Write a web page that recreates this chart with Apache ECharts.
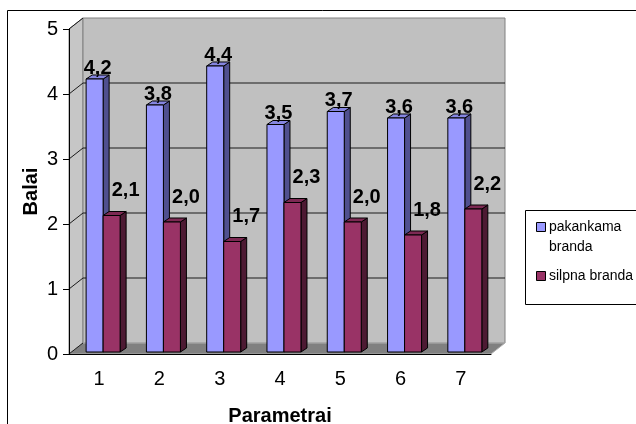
<!DOCTYPE html>
<html>
<head>
<meta charset="utf-8">
<script src="https://cdn.jsdelivr.net/npm/echarts@6/dist/echarts.min.js"></script>
<style>
  html, body { margin: 0; padding: 0; background: #fff; }
  #chart { width: 636px; height: 424px; }
</style>
</head>
<body>
<div id="chart"></div>
<script>
// Category labels along the horizontal axis
const categories = ['1', '2', '3', '4', '5', '6', '7'];
// Series names
const seriesNames = ['pakankama branda', 'silpna branda'];
// Values per series
const pakankama = [4.2, 3.8, 4.4, 3.5, 3.7, 3.6, 3.6];
const silpna = [2.1, 2.0, 1.7, 2.3, 2.0, 1.8, 2.2];
// Value axis range
const valueMin = 0;
const valueMax = 5;
const valueStep = 1;

const FONT = '"Liberation Sans", Arial, sans-serif';

// Depth of the chart box (back wall shift) and of each prism
const WALL_D = [14, -11];
const BAR_D = [6, -4];
const BAR_FRONT = [2, -2];

const palette = [
  { front: '#9999ff', side: '#50508f', top: '#8585e0' },
  { front: '#993366', side: '#4d1a33', top: '#7d2953' }
];
const labelOffset = [
  [3, -11],
  [14, -25]
];

function fmt(v) {
  return v.toFixed(1).replace('.', ',');
}

// Walls, floor and gridlines of the 3D box
function renderBox(params, api) {
  const cs = params.coordSys;
  const L = cs.x, R = cs.x + cs.width, T = cs.y, B = cs.y + cs.height;
  const dx = WALL_D[0], dy = WALL_D[1];
  const kids = [];
  // side wall
  kids.push({
    type: 'polygon',
    shape: { points: [[L, T], [L + dx, T + dy], [L + dx, B + dy], [L, B]] },
    style: { fill: '#c6c6c6', stroke: '#808080', lineWidth: 1 }
  });
  // back wall
  kids.push({
    type: 'rect',
    shape: { x: L + dx, y: T + dy, width: R - L, height: B - T },
    style: { fill: '#c0c0c0', stroke: '#808080', lineWidth: 1 }
  });
  // floor
  kids.push({
    type: 'polygon',
    shape: { points: [[L, B], [R, B], [R + dx, B + dy], [L + dx, B + dy]] },
    style: { fill: '#808080', stroke: '#b0b0b0', lineWidth: 1 }
  });
  // gridlines on back wall and side wall
  for (let v = valueMin; v <= valueMax; v += valueStep) {
    const y = api.coord([0, v])[1];
    if (v > valueMin && v < valueMax) {
      kids.push({
        type: 'line',
        shape: { x1: L + dx, y1: y + dy, x2: R + dx, y2: y + dy },
        style: { stroke: '#1a1a1a', lineWidth: 1 }
      });
    }
    kids.push({
      type: 'line',
      shape: { x1: L, y1: y, x2: L + dx, y2: y + dy },
      style: { stroke: '#1a1a1a', lineWidth: 1 }
    });
  }
  return { type: 'group', children: kids };
}

// One 3D prism per value, with its value label
function prismRenderer(s) {
  return function (params, api) {
    const i = api.value(0);
    const v = api.value(1);
    const top = api.coord([i, v]);
    const base = api.coord([i, 0]);
    const w = api.size([1, 0])[0];
    const bw = w * 0.282;
    const x0 = top[0] - w * 0.216 + BAR_FRONT[0] - 2 + s * bw;
    const x1 = x0 + bw;
    const yT = top[1] + BAR_FRONT[1];
    const yB = base[1] + BAR_FRONT[1];
    const dx = BAR_D[0], dy = BAR_D[1];
    const c = palette[s];
    const edge = { stroke: '#000', lineWidth: 1 };
    return {
      type: 'group',
      children: [
        {
          type: 'polygon',
          shape: { points: [[x1, yT], [x1 + dx, yT + dy], [x1 + dx, yB + dy], [x1, yB]] },
          style: Object.assign({ fill: c.side }, edge)
        },
        {
          type: 'polygon',
          shape: { points: [[x0, yT], [x0 + dx, yT + dy], [x1 + dx, yT + dy], [x1, yT]] },
          style: Object.assign({ fill: c.top }, edge)
        },
        {
          type: 'rect',
          shape: { x: x0, y: yT, width: bw, height: yB - yT },
          style: Object.assign({ fill: c.front }, edge)
        },
        {
          type: 'text',
          x: (x0 + x1) / 2 + labelOffset[s][0],
          y: yT + labelOffset[s][1],
          style: {
            text: fmt(v),
            fill: '#000',
            font: 'bold 20px ' + FONT,
            align: 'center',
            verticalAlign: 'middle'
          }
        }
      ]
    };
  };
}

const chart = echarts.init(document.getElementById('chart'), null, { renderer: 'canvas' });

const legendX = 536;
const legendRows = [217, 266];

chart.setOption({
  animation: false,
  backgroundColor: '#fff',
  grid: { left: 69, right: 145, top: 29, bottom: 70, containLabel: false, outerBoundsMode: 'none' },
  xAxis: {
    type: 'category',
    data: categories,
    z: 5,
    axisLine: { lineStyle: { color: '#000', width: 1 } },
    axisTick: { length: 7, lineStyle: { color: '#000' } },
    axisLabel: { color: '#000', fontSize: 20, fontFamily: FONT, margin: 15 },
    name: 'Parametrai',
    nameLocation: 'middle',
    nameGap: 52,
    nameMoveOverlap: false,
    nameTextStyle: { color: '#000', fontSize: 20, fontWeight: 'bold', fontFamily: FONT }
  },
  yAxis: {
    type: 'value',
    min: valueMin,
    max: valueMax,
    interval: valueStep,
    z: 5,
    splitLine: { show: false },
    axisLine: { show: true, lineStyle: { color: '#000', width: 1 } },
    axisTick: { show: true, length: 6, lineStyle: { color: '#000' } },
    axisLabel: { color: '#000', fontSize: 20, fontFamily: FONT, margin: 11 },
    name: 'Balai',
    nameLocation: 'middle',
    nameGap: 28,
    nameMoveOverlap: false,
    nameTextStyle: { color: '#000', fontSize: 20, fontWeight: 'bold', fontFamily: FONT }
  },
  series: [
    {
      type: 'custom',
      name: 'box',
      clip: false,
      z: 1,
      silent: true,
      renderItem: renderBox,
      data: [[0, 0]]
    },
    {
      type: 'custom',
      name: seriesNames[0],
      clip: false,
      z: 3,
      renderItem: prismRenderer(0),
      data: pakankama.map((v, i) => [i, v])
    },
    {
      type: 'custom',
      name: seriesNames[1],
      clip: false,
      z: 4,
      renderItem: prismRenderer(1),
      data: silpna.map((v, i) => [i, v])
    }
  ],
  graphic: [
    {
      type: 'rect',
      shape: { x: 7.5, y: 10.5, width: 700, height: 500 },
      style: { fill: 'none', stroke: '#000', lineWidth: 1 },
      silent: true
    },
    {
      type: 'rect',
      shape: { x: 525.5, y: 210.5, width: 200, height: 94 },
      style: { fill: '#fff', stroke: '#000', lineWidth: 1 },
      silent: true
    }
  ].concat(seriesNames.flatMap((name, s) => [
    {
      type: 'rect',
      shape: { x: legendX + 0.5, y: legendRows[s] + 5.5, width: 9, height: 9 },
      style: { fill: palette[s].front, stroke: '#000', lineWidth: 1 }
    },
    {
      type: 'text',
      x: legendX + 13,
      y: legendRows[s],
      style: {
        text: name,
        width: 90,
        overflow: 'break',
        lineHeight: 20,
        fill: '#000',
        font: '14px ' + FONT,
        verticalAlign: 'top'
      }
    }
  ]))
});
</script>
</body>
</html>
